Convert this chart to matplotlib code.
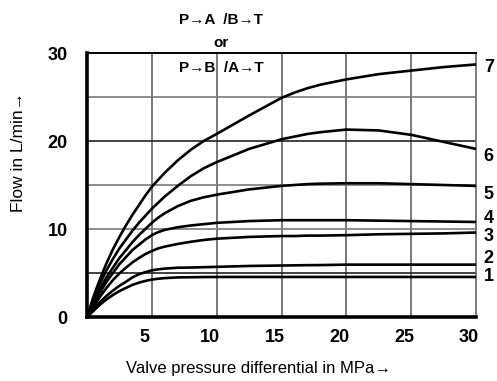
import matplotlib
matplotlib.use("Agg")
import matplotlib.pyplot as plt
from matplotlib import font_manager
from matplotlib.transforms import ScaledTranslation

# ---- data ----
pressure = [0, 0.5, 1, 1.5, 2, 2.5, 3, 3.5, 4, 4.5, 5, 5.5, 6, 7, 8, 9, 10,
            12.5, 15, 16, 17, 18, 20, 22.5, 25, 27.5, 30]
flow_7 = [0, 2.3, 4.3, 6.1, 7.7, 9.1, 10.4, 11.6, 12.7, 13.8, 14.8, 15.6, 16.4, 17.8, 19.0, 20.0, 20.8,
          22.9, 24.9, 25.5, 26.0, 26.4, 27.0, 27.6, 28.0, 28.4, 28.7]
flow_6 = [0, 2.0, 3.8, 5.3, 6.6, 7.8, 8.8, 9.8, 10.7, 11.5, 12.3, 13.0, 13.7, 14.9, 16.0, 16.9, 17.6,
          19.1, 20.2, 20.5, 20.8, 21.0, 21.3, 21.2, 20.7, 19.9, 19.1]
flow_5 = [0, 1.7, 3.2, 4.5, 5.6, 6.7, 7.6, 8.5, 9.3, 10.0, 10.7, 11.3, 11.8, 12.6, 13.2, 13.6, 13.9,
          14.5, 14.9, 15.0, 15.1, 15.15, 15.2, 15.2, 15.1, 15.0, 14.9]
flow_4 = [0, 1.5, 2.8, 4.0, 5.0, 6.0, 6.8, 7.6, 8.2, 8.8, 9.3, 9.65, 9.9, 10.2, 10.4, 10.55, 10.7,
          10.9, 11.0, 11.0, 11.0, 11.0, 11.0, 10.95, 10.9, 10.85, 10.8]
flow_3 = [0, 1.2, 2.3, 3.3, 4.2, 4.95, 5.6, 6.2, 6.7, 7.15, 7.5, 7.8, 8.0, 8.3, 8.55, 8.75, 8.9,
          9.1, 9.2, 9.2, 9.25, 9.25, 9.3, 9.4, 9.45, 9.5, 9.6]
flow_2 = [0, 0.9, 1.7, 2.4, 3.0, 3.55, 4.0, 4.5, 4.85, 5.1, 5.3, 5.42, 5.5, 5.6, 5.62, 5.66, 5.7,
          5.8, 5.85, 5.87, 5.89, 5.9, 5.95, 5.95, 5.95, 5.95, 5.95]
flow_1 = [0, 0.7, 1.4, 2.0, 2.5, 2.95, 3.3, 3.65, 3.9, 4.1, 4.25, 4.35, 4.42, 4.5, 4.52, 4.54, 4.55,
          4.55, 4.55, 4.55, 4.55, 4.55, 4.55, 4.55, 4.55, 4.55, 4.55]
curves = [("1", flow_1), ("2", flow_2), ("3", flow_3), ("4", flow_4),
          ("5", flow_5), ("6", flow_6), ("7", flow_7)]
label_y = {"7": 28.4, "6": 18.2, "5": 13.9, "4": 11.2, "3": 9.1, "2": 6.7, "1": 4.6}

x_ticks = [5, 10, 15, 20, 25, 30]
y_ticks = [0, 10, 20, 30]
title_lines = ["P\u2192A  /B\u2192T", "or", "P\u2192B  /A\u2192T"]
xlabel = "Valve pressure differential in MPa\u2192"
ylabel = "Flow in L/min\u2192"

# ---- fonts ----
avail = {f.name for f in font_manager.fontManager.ttflist}
narrow = [f for f in ["Liberation Sans Narrow", "DejaVu Sans Condensed"] if f in avail]
FAM = narrow + ["Liberation Sans", "DejaVu Sans"]
plt.rcParams["font.family"] = FAM

W, H = 497, 381
fig = plt.figure(figsize=(W / 100, H / 100), dpi=100)
x0, x1, ytop, ybot = 87, 476, 53, 317
ax = fig.add_axes([x0 / W, 1 - ybot / H, (x1 - x0) / W, (ybot - ytop) / H])
ax.set_xlim(0, 30)
ax.set_ylim(0, 30)

# grid
for gx in [5, 10, 15, 20, 25]:
    ax.axvline(gx, color="#555555", lw=1.1, zorder=1)
for gy in [5, 10, 15, 20, 25]:
    c = "#222222" if gy in (5, 20) else "#7a7a7a"
    ax.axhline(gy, color=c, lw=1.2, zorder=1)

for name, ys in curves:
    ax.plot(pressure, ys, color="black", lw=1.9, zorder=3,
            solid_capstyle="round", solid_joinstyle="round")

for s in ["left", "bottom"]:
    ax.spines[s].set_linewidth(2.6)
    ax.spines[s].set_color("black")
ax.spines["top"].set_linewidth(1.4)
ax.spines["top"].set_color("black")
ax.spines["right"].set_linewidth(1.2)
ax.spines["right"].set_color("#666666")

ax.set_xticks(x_ticks)
ax.set_yticks(y_ticks)
ax.set_xticklabels([str(v) for v in x_ticks], fontsize=13, fontweight="bold")
ax.set_yticklabels([str(v) for v in y_ticks], fontsize=13, fontweight="bold")
ax.tick_params(axis="both", length=0)
ax.tick_params(axis="x", pad=9)
ax.tick_params(axis="y", pad=14)
for lab in ax.get_xticklabels():
    lab.set_transform(lab.get_transform() + ScaledTranslation(-0.07, 0, fig.dpi_scale_trans))

# right-side curve numbers
for name, _ in curves:
    ax.text(1.02, label_y[name], name, transform=ax.get_yaxis_transform(),
            ha="left", va="center", fontsize=13, fontweight="bold")

# title lines
for txt, py in zip(title_lines, [20, 43, 68]):
    fig.text(221 / W, 1 - py / H, txt, ha="center", va="center", fontsize=11, fontweight="bold")

fig.text(258 / W, 1 - 368 / H, xlabel, ha="center", va="center", fontsize=12)
fig.text(19 / W, 1 - 152 / H, ylabel, ha="center", va="center", fontsize=12.5, rotation=90)

fig.savefig("out.png", dpi=100)
